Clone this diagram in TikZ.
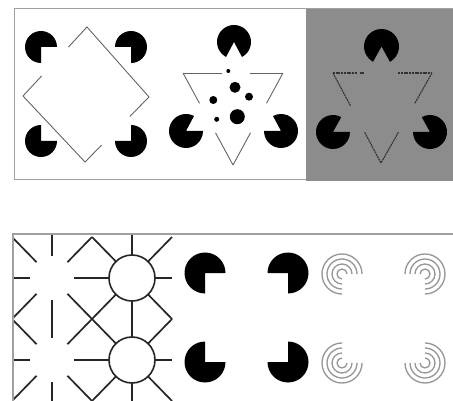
\documentclass[tikz,border=0pt]{standalone}
\usetikzlibrary{calc}
\definecolor{panelgray}{RGB}{140,140,140}
\definecolor{framegray}{RGB}{160,160,160}
\definecolor{thinline}{RGB}{100,100,100}
\definecolor{ringgray}{RGB}{150,150,150}
\newcommand{\pacman}[4]{\fill[black] (#1) -- ++(#3:#2) arc[start angle=#3, end angle=#4, radius=#2] -- cycle;}
\newcommand{\ringpac}[3]{\foreach \rr in {5,10,15,20}{\draw[ringline] (#1) ++(#2:\rr) arc[start angle=#2, end angle=#3, radius=\rr];}}
\tikzset{
  frameline/.style={draw=framegray, line width=1pt},
  thin edge/.style={draw=thinline, line width=0.9pt},
  dot edge/.style={draw=black!80, line width=1.1pt, dash pattern=on 2pt off 0.7pt},
  lat/.style={draw=black!85, line width=1.7pt},
  ringline/.style={draw=ringgray, line width=1.3pt},
}
\begin{document}
\begin{tikzpicture}[x=1pt,y=1pt]
\useasboundingbox (0,0) rectangle (453,-401);
\fill[white] (0,0) rectangle (453,-401);

% ---------- top panel frame ----------
\fill[panelgray] (306,-9) rectangle (453,-181);
\draw[frameline] (453,-9) -- (14,-9) -- (14,-180) -- (306,-180);

% ---------- panel 1: Kanizsa square with diamond ----------
\coordinate (dT) at (87,-27);
\coordinate (dR) at (149,-97);
\coordinate (dB) at (85,-162);
\coordinate (dL) at (23,-96);
\draw[thin edge] (dL) -- ($(dL)!0.29!(dT)$);
\draw[thin edge] ($(dL)!0.71!(dT)$) -- (dT) -- (dR) -- ($(dR)!0.30!(dB)$);
\draw[thin edge] ($(dR)!0.74!(dB)$) -- (dB) -- (dL);
\pacman{41,-47}{16}{0}{270}
\pacman{131,-47}{16}{-90}{180}
\pacman{41,-141}{16}{90}{360}
\pacman{131,-141}{16}{180}{450}

% ---------- panel 2: Kanizsa triangle with dots ----------
\coordinate (tA) at (183,-73);
\coordinate (tB) at (283,-73);
\coordinate (tC) at (233,-165);
\draw[thin edge] (tA) -- ($(tA)!0.39!(tB)$);
\draw[thin edge] ($(tA)!0.67!(tB)$) -- (tB);
\draw[thin edge] (tA) -- ($(tA)!0.33!(tC)$);
\draw[thin edge] ($(tA)!0.65!(tC)$) -- (tC);
\draw[thin edge] (tB) -- ($(tB)!0.33!(tC)$);
\draw[thin edge] ($(tB)!0.65!(tC)$) -- (tC);
\pacman{234,-42}{17}{-62}{242}
\pacman{186,-131}{17}{62}{360}
\pacman{281,-131}{17}{180}{478}
\fill (228.3,-71) circle[radius=2];
\fill (235,-87.3) circle[radius=5.5];
\fill (213.3,-100) circle[radius=4];
\fill (249,-96.7) circle[radius=4];
\fill (216.7,-119.3) circle[radius=2.5];
\fill (237.3,-116.7) circle[radius=7.5];

% ---------- panel 3: Kanizsa triangle on gray ----------
\coordinate (gA) at (333,-73);
\coordinate (gB) at (432,-73);
\coordinate (gC) at (381,-163);
\draw[dot edge] (gA) -- ($(gA)!0.24!(gB)$);
\draw[dot edge] ($(gA)!0.27!(gB)$) -- ($(gA)!0.32!(gB)$);
\draw[dot edge] ($(gA)!0.66!(gB)$) -- (gB);
\draw[dot edge] (gA) -- ($(gA)!0.37!(gC)$);
\draw[dot edge] ($(gA)!0.66!(gC)$) -- (gC);
\draw[dot edge] (gB) -- ($(gB)!0.34!(gC)$);
\draw[dot edge] ($(gB)!0.66!(gC)$) -- (gC);
\pacman{381.5,-46.5}{17.5}{-61}{241}
\pacman{333,-132}{17}{61}{360}
\pacman{430,-132}{17}{180}{479}

% ---------- Ehrenstein lattice ----------
\draw[lat] (13,-278) -- (172,-278);
\draw[lat] (13,-360) -- (172,-360);
\draw[lat] (52,-234) -- (52,-401);
\draw[lat] (132,-234) -- (132,-401);
\draw[lat] (12,-237) -- (172,-401);
\draw[lat] (92,-237) -- (172,-319);
\draw[lat] (12,-319) -- (92,-401);
\draw[lat] (12,-319) -- (92,-237);
\draw[lat] (12,-401) -- (172,-237);
\draw[lat] (92,-401) -- (172,-319);
\foreach \cx/\cy in {52/278,52/360,132/278,132/360}
  \fill[white] (\cx,-\cy) circle[radius=22];
\draw[lat, line width=1.6pt] (132,-278) circle[radius=23];
\draw[lat, line width=1.6pt] (132,-360) circle[radius=23];
\fill[white] (0,-234) rectangle (12.5,-401);
\draw[frameline, line width=1.3pt] (453,-234) -- (13,-234) -- (13,-401);

% ---------- Kanizsa square (solid) ----------
\pacman{205,-273}{20.5}{0}{270}
\pacman{288,-273}{20.5}{-90}{180}
\pacman{205,-362}{20.5}{90}{360}
\pacman{288,-362}{20.5}{180}{450}

% ---------- Kanizsa square (concentric rings) ----------
\ringpac{342,-274}{0}{270}
\ringpac{425,-274}{-90}{180}
\ringpac{342,-363}{90}{360}
\ringpac{425,-363}{180}{450}
\end{tikzpicture}
\end{document}
